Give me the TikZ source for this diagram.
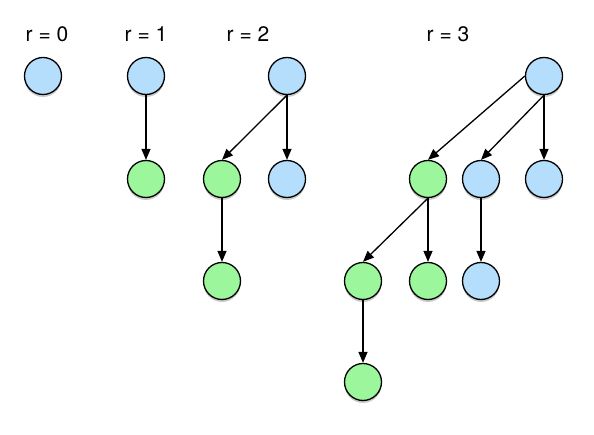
\documentclass[tikz,border=0pt]{standalone}
\usepackage{fontspec}
\setmainfont{TeX Gyre Heros}
\usetikzlibrary{arrows.meta,shadows}
\definecolor{nblue}{RGB}{181,222,252}
\definecolor{ngreen}{RGB}{156,247,156}
\tikzset{
  vtx/.style={circle,draw=black,line width=1.3pt,minimum size=37pt,inner sep=0pt,
    drop shadow={shadow xshift=0pt,shadow yshift=-2.5pt,opacity=0.35,fill=black!60}},
  bv/.style={vtx,fill=nblue},
  gv/.style={vtx,fill=ngreen},
  edge/.style={-{Triangle[length=11pt,width=9pt]},line width=1.3pt},
  lbl/.style={font=\fontsize{21}{24}\selectfont}
}
\begin{document}
\begin{tikzpicture}[x=1pt,y=-1pt]
\useasboundingbox (0,0) rectangle (594,435);
\node[lbl] (l0) at (47,34) {r = 0};
\node[lbl] (l1) at (146,34) {r = 1};
\node[lbl] (l2) at (248,34) {r = 2};
\node[lbl] (l3) at (448,34) {r = 3};
% r=0
\node[bv] (a0) at (43,76) {};
% r=1
\node[bv] (b0) at (146,76) {};
\node[gv] (b1) at (146,179) {};
\draw[edge] (b0.south) -- (b1.north);
% r=2
\node[bv] (c0) at (287,76) {};
\node[gv] (c1) at (222,179) {};
\node[bv] (c2) at (287,179) {};
\node[gv] (c3) at (222,281) {};
\draw[edge] (c0.south) -- (c1.north);
\draw[edge] (c0.south) -- (c2.north);
\draw[edge] (c1.south) -- (c3.north);
% r=3
\node[bv] (d0) at (544,76) {};
\node[gv] (d1) at (428,179) {};
\node[bv] (d2) at (481,179) {};
\node[bv] (d3) at (544,179) {};
\node[gv] (d4) at (363,281) {};
\node[gv] (d5) at (428,281) {};
\node[bv] (d6) at (481,281) {};
\node[gv] (d7) at (363,382) {};
\draw[edge] (d0.west) -- (d1.north);
\draw[edge] (d0.south) -- (d2.north);
\draw[edge] (d0.south) -- (d3.north);
\draw[edge] (d1.south) -- (d4.north);
\draw[edge] (d1.south) -- (d5.north);
\draw[edge] (d2.south) -- (d6.north);
\draw[edge] (d4.south) -- (d7.north);
\end{tikzpicture}
\end{document}
